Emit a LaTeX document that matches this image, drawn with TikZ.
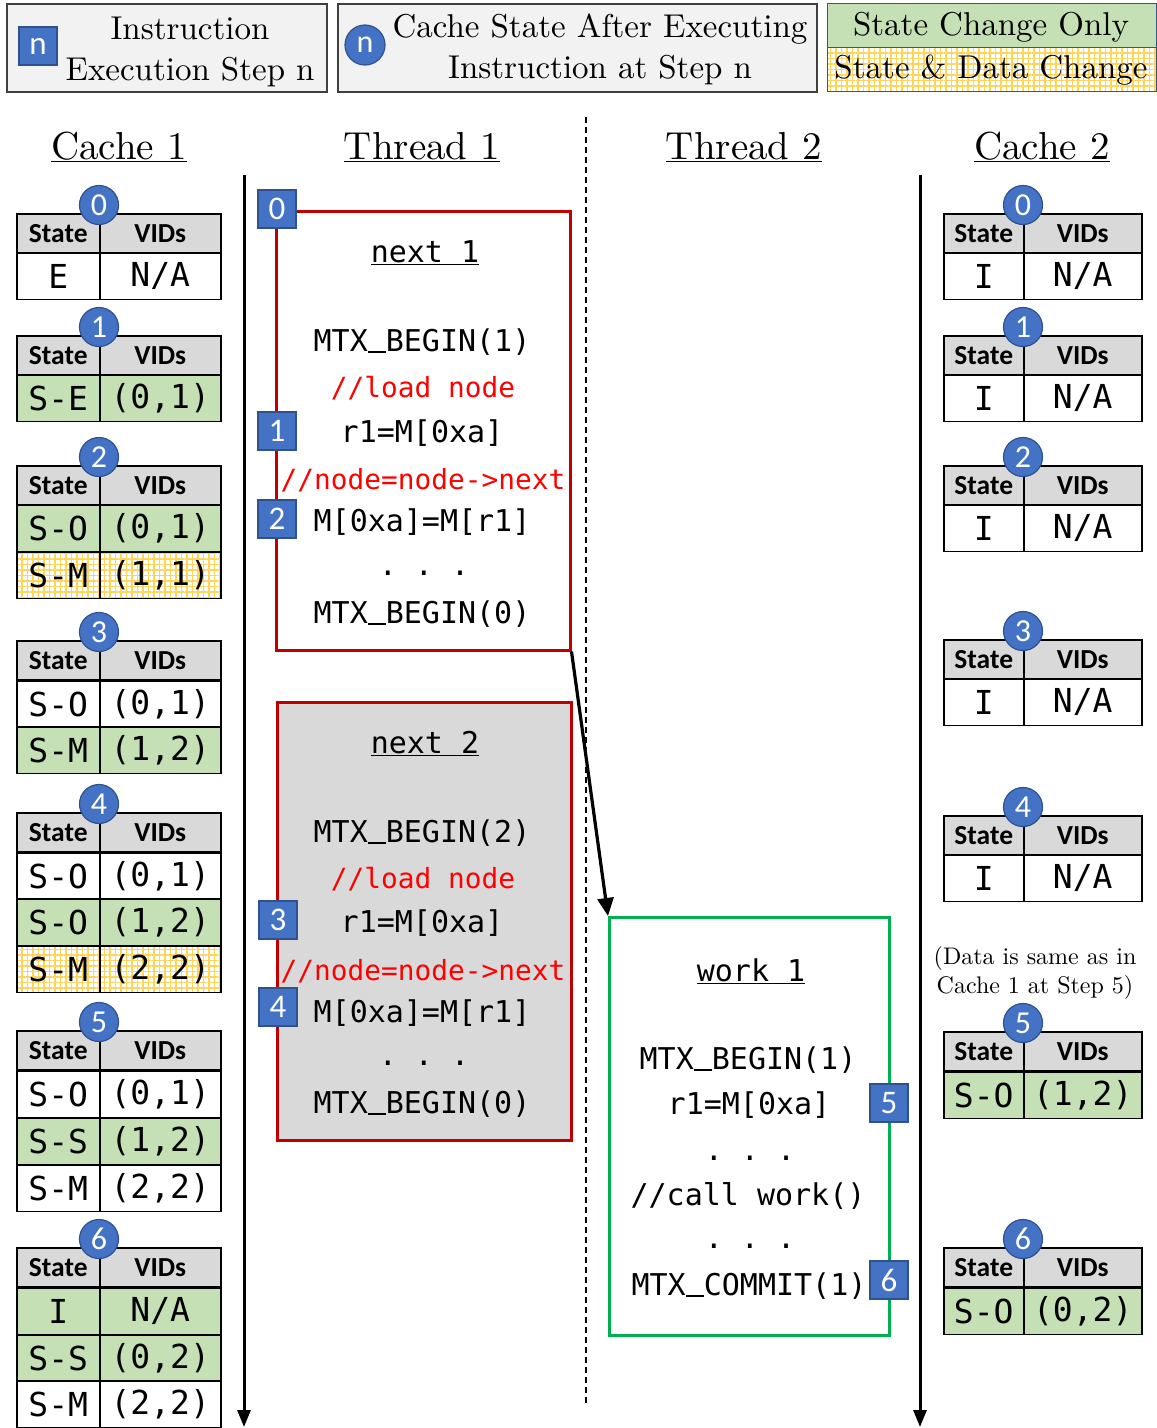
\documentclass[tikz,border=0pt]{standalone}
\usepackage{fontspec}
\setmainfont{lmroman10-regular.otf}
\setsansfont{Carlito}
\setmonofont{DejaVu Sans Mono}
\usetikzlibrary{arrows.meta, patterns.meta}
\definecolor{hdrgray}{HTML}{D9D9D9}
\definecolor{chggreen}{HTML}{C5E0B4}
\definecolor{gridyellow}{HTML}{FFD45A}
\definecolor{badgeblue}{HTML}{4472C4}
\definecolor{badgeline}{HTML}{2F528F}
\definecolor{boxred}{HTML}{C00000}
\definecolor{boxgreen}{HTML}{00B050}
\definecolor{leggray}{HTML}{F2F2F2}
\definecolor{legline}{HTML}{404040}
\definecolor{legblue}{HTML}{2F5597}
\newcommand{\us}{\makebox[0.602em][l]{\rule[-1.5pt]{0.602em}{1.8pt}}}
\tikzset{ hdr/.style = { draw
                       , line width     = 1.5pt
                       , fill           = hdrgray
                       , inner sep      = 0pt
                       , minimum height = 39pt
                       , anchor         = north west
                       , font           = \sffamily\bfseries\fontsize{27.5}{30}\selectfont
                       },
          cell/.style = { draw
                        , line width     = 1.5pt
                        , inner sep      = 0pt
                        , minimum height = 46.5pt
                        , anchor         = north west
                        , font           = \ttfamily\fontsize{33}{36}\selectfont
                        },
          keep/.style = { fill = white },
          chg/.style  = { fill = chggreen },
          dat/.style  = { pattern       = {Hatch[distance=5.5pt, line width=1.1pt]}
                        , pattern color = gridyellow
                        },
          badge/.style = { circle
                         , draw         = badgeline
                         , line width   = 1.2pt
                         , fill         = badgeblue
                         , text         = white
                         , inner sep    = 0pt
                         , minimum size = 39pt
                         , font         = \sffamily\fontsize{32}{32}\selectfont
                         },
          stepbox/.style = { rectangle
                           , draw         = badgeline
                           , line width   = 1.2pt
                           , fill         = badgeblue
                           , text         = white
                           , inner sep    = 0pt
                           , minimum size = 38pt
                           , font         = \sffamily\fontsize{33}{33}\selectfont
                           },
          title/.style = { inner sep = 0pt
                         , anchor    = base
                         , font      = \fontsize{39}{44}\selectfont
                         },
          legtext/.style = { inner sep = 0pt
                           , align     = center
                           , font      = \fontsize{33}{41}\selectfont
                           },
          code/.style = { inner sep = 0pt
                        , font      = \ttfamily\fontsize{30}{34}\selectfont
                        },
          cmt/.style = { inner sep = 0pt
                       , text      = red
                       , font      = \ttfamily\fontsize{27.8}{30}\selectfont
                       },
          timeline/.style = { line width = 3pt
                            , -{Triangle[length=17pt, width=13pt]}
                            }
        }

\begin{document}
\begin{tikzpicture}[x=1pt, y=-1pt]
  \useasboundingbox (0,0) rectangle (1157,1428);

  % legend
  \node[draw=legline, line width=2pt, fill=leggray, minimum width=320pt, minimum height=88pt,
        anchor=north west] (legstep) at (6,3) {};
  \node[stepbox] (legsq) at (38,46) {n};
  \node[legtext] (legsqt) at (190,52) {Instruction\\Execution Step n};
  \node[draw=legline, line width=2pt, fill=leggray, minimum width=479pt, minimum height=88pt,
        anchor=north west] (legstate) at (337,3) {};
  \node[badge, minimum size=40pt] (legci) at (365,45) {n};
  \node[legtext] (legcit) at (600,49) {Cache State After Executing\\Instruction at Step n};
  \node[draw=legblue, line width=1.3pt, chg, minimum width=329pt, minimum height=44pt,
        anchor=north west] (legchg) at (827,3) {};
  \node[draw=legblue, line width=1.3pt, dat, minimum width=329pt, minimum height=44pt,
        anchor=north west] (legdat) at (827,47) {};
  \node[legtext] (legchgt) at (991,27) {State Change Only};
  \node[legtext] (legdatt) at (991,70) {State \& Data Change};

  % column titles
  \node[title] (t1) at (119,159) {\underline{Cache 1}};
  \node[title] (t2) at (422,159) {\underline{Thread 1}};
  \node[title] (t3) at (744,159) {\underline{Thread 2}};
  \node[title] (t4) at (1042,159) {\underline{Cache 2}};

  % time lines
  \coordinate (c1top) at (244,175);
  \coordinate (c1end) at (244,1427);
  \coordinate (c2top) at (920,175);
  \coordinate (c2end) at (920,1427);
  \coordinate (midtop) at (586,117);
  \coordinate (midend) at (586,1405);
  \draw[timeline] (c1top) -- (c1end);
  \draw[timeline] (c2top) -- (c2end);
  \draw[line width=1.2pt, dash pattern=on 6pt off 4pt] (midtop) -- (midend);

  % cache 1
  \foreach \t/\y in {0/213, 1/335, 2/465, 3/640, 4/812, 5/1030, 6/1247}{
    \node[hdr, minimum width=83pt] (aHs\t) at (16,\y) {State};
    \node[hdr, minimum width=121pt] (aHv\t) at (99,\y) {VIDs};
  }
  \foreach \y/\s/\v/\f [count=\i] in {252/E/{N/A}/keep,
                                      374/S-E/{(0,1)}/chg,
                                      504/S-O/{(0,1)}/chg, 551/S-M/{(1,1)}/dat,
                                      680/S-O/{(0,1)}/keep, 726/S-M/{(1,2)}/chg,
                                      852/S-O/{(0,1)}/keep, 898/S-O/{(1,2)}/chg, 945/S-M/{(2,2)}/dat,
                                      1070/S-O/{(0,1)}/keep, 1117/S-S/{(1,2)}/chg, 1164/S-M/{(2,2)}/keep,
                                      1287/I/{N/A}/chg, 1334/S-S/{(0,2)}/chg, 1380/S-M/{(2,2)}/keep}{
    \node[cell, \f, minimum width=83pt] (aS\i) at (16,\y) {\s};
    \node[cell, \f, minimum width=121pt] (aV\i) at (99,\y) {\v};
  }
  \foreach \t/\y in {0/213, 1/335, 2/465, 3/640, 4/812, 5/1030, 6/1247}
    \node[badge] (aB\t) at (99,\y-8) {\t};

  % cache 2
  \foreach \t/\y in {0/213, 1/335, 2/465, 3/639, 4/815, 5/1031, 6/1247}{
    \node[hdr, minimum width=80pt] (bHs\t) at (943,\y) {State};
    \node[hdr, minimum width=118pt] (bHv\t) at (1023,\y) {VIDs};
  }
  \foreach \y/\s/\v/\f [count=\i] in {252/I/{N/A}/keep, 374/I/{N/A}/keep, 504/I/{N/A}/keep,
                                      678/I/{N/A}/keep, 854/I/{N/A}/keep,
                                      1071/S-O/{(1,2)}/chg, 1287/S-O/{(0,2)}/chg}{
    \node[cell, \f, minimum width=80pt] (bS\i) at (943,\y) {\s};
    \node[cell, \f, minimum width=118pt] (bV\i) at (1023,\y) {\v};
  }
  \foreach \t/\y in {0/213, 1/335, 2/465, 3/639, 4/815, 5/1031, 6/1247}
    \node[badge] (bB\t) at (1023,\y-8) {\t};
  \node[inner sep=0pt, align=center, font=\fontsize{24}{29}\selectfont] (note) at (1035,973)
    {(Data is same as in\\Cache 1 at Step 5)};

  % thread 1
  \node[draw=boxred, line width=2.5pt, fill=white, minimum width=294pt, minimum height=439pt,
        anchor=north west] (nx1) at (275,210) {};
  \node[code, anchor=base] (nx1t) at (425,262) {\underline{next 1}};
  \node[code] (nx1a) at (422,342) {MTX\us BEGIN(1)};
  \node[cmt] (nx1b) at (423,388) {//load node};
  \node[code] (nx1c) at (422,433) {r1=M[0xa]};
  \node[cmt] (nx1d) at (423,480) {//node=node->next};
  \node[code] (nx1e) at (422,522) {M[0xa]=M[r1]};
  \node[code] (nx1f) at (424,573) {. . .};
  \node[code] (nx1g) at (422,614) {MTX\us BEGIN(0)};

  \node[draw=boxred, line width=2.5pt, fill=hdrgray, minimum width=294pt, minimum height=438pt,
        anchor=north west] (nx2) at (276,701) {};
  \node[code, anchor=base] (nx2t) at (425,753) {\underline{next 2}};
  \node[code] (nx2a) at (422,833) {MTX\us BEGIN(2)};
  \node[cmt] (nx2b) at (423,879) {//load node};
  \node[code] (nx2c) at (422,923) {r1=M[0xa]};
  \node[cmt] (nx2d) at (423,971) {//node=node->next};
  \node[code] (nx2e) at (422,1013) {M[0xa]=M[r1]};
  \node[code] (nx2f) at (424,1063) {. . .};
  \node[code] (nx2g) at (422,1104) {MTX\us BEGIN(0)};

  % thread 2
  \node[draw=boxgreen, line width=2.5pt, fill=white, minimum width=280pt, minimum height=418pt,
        anchor=north west] (wk1) at (608,916) {};
  \node[code, anchor=base] (wk1t) at (751,981) {\underline{work 1}};
  \node[code] (wk1a) at (748,1060) {MTX\us BEGIN(1)};
  \node[code] (wk1b) at (749,1105) {r1=M[0xa]};
  \node[code] (wk1c) at (750,1158) {. . .};
  \node[code] (wk1d) at (748,1196) {//call work()};
  \node[code] (wk1e) at (750,1246) {. . .};
  \node[code] (wk1f) at (749,1286) {MTX\us COMMIT(1)};

  \draw[line width=3.2pt, -{Triangle[length=18pt, width=16pt]}] (nx1.south east) -- (wk1.north west);

  % steps
  \node[stepbox] (s0) at (277,209) {0};
  \node[stepbox] (s1) at (277,431) {1};
  \node[stepbox] (s2) at (277,519) {2};
  \node[stepbox] (s3) at (278,920) {3};
  \node[stepbox] (s4) at (278,1007) {4};
  \node[stepbox] (s5) at (889,1103) {5};
  \node[stepbox] (s6) at (889,1280) {6};
\end{tikzpicture}
\end{document}
